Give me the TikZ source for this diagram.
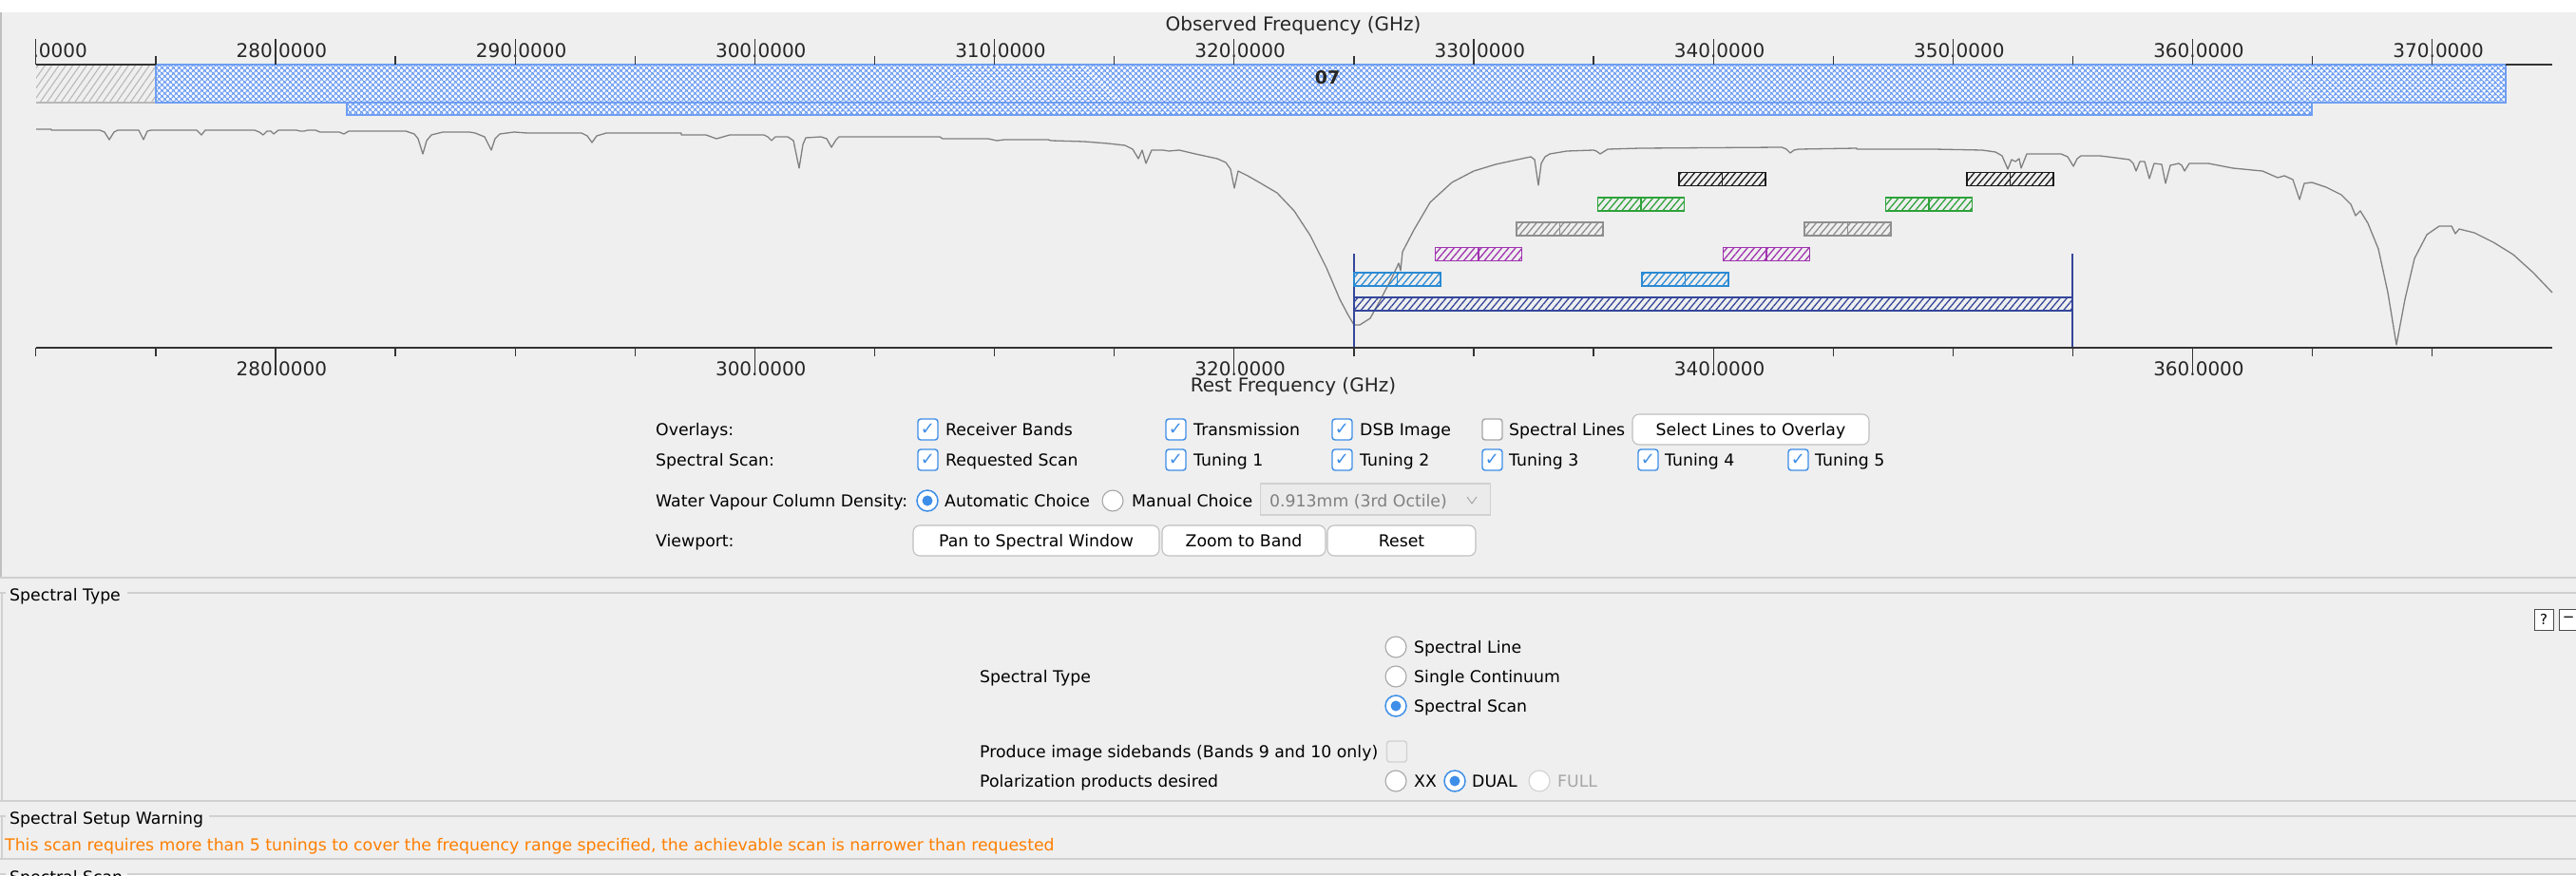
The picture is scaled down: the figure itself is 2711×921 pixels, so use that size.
\documentclass[tikz,border=0pt]{standalone}
\usepackage{fontspec}
\usetikzlibrary{patterns.meta}
\newfontfamily\dv{DejaVu Sans}
\definecolor{bg}{HTML}{EFEFEF}
\definecolor{uiblue}{HTML}{3D8EE8}
\definecolor{bandblue}{HTML}{6F9EF2}
\definecolor{tone}{HTML}{2A8AD4}
\definecolor{ttwo}{HTML}{A033B0}
\definecolor{tthree}{HTML}{8E8E8E}
\definecolor{tfour}{HTML}{2EA23A}
\definecolor{tfive}{HTML}{1A1A1A}
\definecolor{scan}{HTML}{34479A}
\definecolor{warn}{HTML}{FF7F00}
\definecolor{sep}{HTML}{D0D0D0}
\begin{document}
\begin{tikzpicture}[x=1pt,y=-1pt,
  ui/.style={font=\dv\fontsize{17.3}{20}\selectfont, inner sep=0pt, anchor=west, text height=13pt, text depth=1pt},
  ax/.style={font=\dv\fontsize{20}{24}\selectfont, inner sep=0pt, anchor=base, text=black!85},
  axtick/.style={line width=1.3pt, black!80},
  cbon/.style={draw=uiblue, line width=1.4pt, fill=white, rounded corners=3pt, minimum width=21pt, minimum height=22pt, inner sep=0pt, text=uiblue, font=\dv\fontsize{18}{18}\selectfont},
  cboff/.style={cbon, draw=black!35},
  radon/.style={circle, draw=uiblue, line width=1.5pt, fill=white, minimum size=22pt, inner sep=0pt, path picture={\fill[uiblue] (path picture bounding box.center) circle (5.5pt);}},
  radoff/.style={circle, draw=black!35, line width=1.1pt, fill=white, minimum size=22pt, inner sep=0pt},
  btn/.style={ui, anchor=center, draw=black!25, line width=1.1pt, fill=white, rounded corners=7pt, minimum height=32pt},
  tbox/.style={line width=1.4pt, draw=#1, pattern={Lines[angle=50,distance=5.5pt,line width=1.3pt]}, pattern color=#1},
  panel/.style={sep, line width=1.6pt}
]
\useasboundingbox (0,0) rectangle (2711,921);
\clip (0,0) rectangle (2711,921);
\fill[bg] (0,0) rectangle (2711,921);
\fill[white] (0,0) rectangle (2711,13);
\draw[black!25, line width=1.5pt] (1,13) -- (1,608);

% ---------- observed frequency axis ----------
\node[font=\dv\fontsize{20}{24}\selectfont, inner sep=0pt, text=black!85] (obs) at (1361,27) {Observed Frequency (GHz)};
\begin{scope}
  \clip (38,30) rectangle (2700,70);
  \foreach \f in {270,280,...,370} {
    \pgfmathsetmacro\xx{290+(\f-280)*25.22}
    \node[ax] (top\f) at (\xx,60) {\llap{\f}.\rlap{0000}};
  }
\end{scope}
% bands
\fill[pattern={Lines[angle=55,distance=6pt,line width=1.1pt]}, pattern color=black!28] (38,68) rectangle (164,108);
\draw[black!28, line width=1.4pt] (38,108) -- (164,108);
\path[preaction={fill=white}, pattern={Hatch[angle=45,distance=4pt,line width=1.6pt]}, pattern color=bandblue] (164,68) rectangle (2637,108);
\draw[bandblue, line width=1.6pt] (164,68) rectangle (2637,108);
\path[preaction={fill=white}, pattern={Hatch[angle=45,distance=4pt,line width=1.6pt]}, pattern color=bandblue] (365,108) rectangle (2433,121);
\draw[bandblue, line width=1.6pt] (365,108) rectangle (2433,121);
\node[font=\dv\bfseries\fontsize{19}{20}\selectfont, inner sep=0pt, text=black!85] (bandlabel) at (1397,82) {07};
\draw[axtick] (38,68) -- (164,68);
\draw[axtick] (2637,68) -- (2686,68);
\foreach \f in {270,280,...,370} {
  \pgfmathsetmacro\xx{290+(\f-280)*25.22}
  \draw[axtick] (\xx,41) -- (\xx,68);
}
\foreach \f in {275,285,...,365} {
  \pgfmathsetmacro\xx{290+(\f-280)*25.22}
  \draw[axtick] (\xx,59) -- (\xx,68);
}

% ---------- transmission curve ----------
\draw[black!50, line width=1.3pt, line join=round] plot coordinates {
(38,136) (54,136) (54,137) (105,137) (110,139) (115,147) (120,139) (124,137) (146,137) (151,147) (155,138) (159,137) (207,137) (212,142) (216,137) (268,137) (273,139) (277,142) (281,138) (285,138) (288,141) (293,137) (312,137) (316,138) (320,138) (324,137) (332,137) (337,139) (357,139) (362,141) (367,138) (427,138) (436,141) (440,146) (445,162) (449,148) (454,142) (466,139) (494,139) (500,140) (510,144) (517,158) (521,146) (526,141) (541,139) (555,140) (612,140) (618,143) (623,150) (628,143) (638,140) (717,140) (717,142) (743,142) (754,146) (768,142) (804,142) (808,144) (812,148) (816,144) (829,144) (835,148) (841,177) (845,152) (848,145) (864,144) (870,146) (875,155) (880,147) (883,144) (989,144) (992,146) (1040,146) (1049,148) (1057,147) (1103,147) (1106,148) (1141,149) (1166,151) (1184,153) (1192,157) (1198,167) (1202,158) (1206,172) (1212,158) (1224,158) (1230,159) (1241,158) (1258,162) (1281,167) (1290,171) (1295,178) (1299,198) (1303,180) (1313,185) (1327,193) (1344,203) (1362,222) (1379,248) (1396,282) (1410,315) (1419,332) (1425,342) (1431,342) (1442,335) (1453,315) (1465,292) (1472,277) (1474,285) (1476,265) (1488,242) (1505,213) (1528,192) (1551,180) (1574,173) (1597,168) (1611,165) (1615,168) (1619,195) (1622,172) (1626,165) (1631,162) (1649,159) (1677,158) (1680,159) (1684,162) (1692,157) (1726,156) (1875,155) (1880,157) (1884,161) (1888,158) (1893,157) (1954,156) (1954,157) (2035,157) (2086,158) (2100,160) (2107,164) (2113,178) (2117,168) (2121,170) (2125,167) (2127,177) (2133,162) (2169,162) (2176,165) (2182,175) (2186,167) (2190,164) (2210,164) (2226,166) (2241,168) (2245,172) (2248,180) (2252,170) (2257,170) (2262,188) (2267,172) (2275,173) (2279,193) (2284,174) (2293,172) (2296,174) (2299,180) (2304,172) (2324,172) (2350,177) (2381,180) (2397,187) (2404,185) (2413,189) (2420,210) (2425,193) (2433,192) (2448,197) (2464,205) (2474,215) (2479,227) (2484,222) (2492,235) (2503,262) (2513,308) (2522,363) (2531,315) (2541,272) (2554,247) (2567,238) (2580,238) (2584,246) (2588,241) (2604,245) (2624,255) (2645,268) (2666,287) (2686,308)};

% ---------- spectral scan ----------
\draw[scan, line width=1.3pt] (1425,267) -- (1425,366);
\draw[scan, line width=1.3pt] (2181,267) -- (2181,366);
\draw[tbox=scan] (1425,313) rectangle (2181,327);
\foreach \k/\c/\yt in {0/tone/287, 1/ttwo/260.5, 2/tthree/234, 3/tfour/208, 4/tfive/181.5} {
  \foreach \off in {0,303} {
    \pgfmathsetmacro\xl{1425+85.5*\k+\off}
    \draw[tbox=\c] (\xl,\yt) rectangle ++(91,14);
    \draw[\c, line width=1.8pt] (\xl+45.5,\yt) -- ++(0,14);
  }
}

% ---------- rest frequency axis ----------
\draw[axtick] (38,366) -- (2686,366);
\foreach \f in {270,275,...,370} {
  \pgfmathsetmacro\xx{290+(\f-280)*25.22}
  \draw[axtick] (\xx,366) -- (\xx,375);
}
\foreach \f in {280,300,...,360} {
  \pgfmathsetmacro\xx{290+(\f-280)*25.22}
  \node[ax] (bot\f) at (\xx,395) {\llap{\f}.\rlap{0000}};
  \draw[axtick] (\xx,366) -- (\xx,393);
}
\node[font=\dv\fontsize{20}{24}\selectfont, inner sep=0pt, text=black!85] (rest) at (1361,407) {Rest Frequency (GHz)};

% ---------- overlay controls ----------
\node[ui] (ovl) at (690,452) {Overlays:};
\node[cbon] (cbRB) at (976.5,452) {✓};  \node[ui] (tRB) at (995,452) {Receiver Bands};
\node[cbon] (cbTr) at (1237.5,452) {✓}; \node[ui] (tTr) at (1256,452) {Transmission};
\node[cbon] (cbDSB) at (1412.5,452) {✓}; \node[ui] (tDSB) at (1431,452) {DSB Image};
\node[cboff] (cbSL) at (1570.5,452) {}; \node[ui] (tSL) at (1588,452) {Spectral Lines};
\node[btn, minimum width=249pt] (bSel) at (1842.5,452) {Select Lines to Overlay};

\node[ui] (ssl) at (690,484) {Spectral Scan:};
\node[cbon] (cbRS) at (976.5,484) {✓};  \node[ui] (tRS) at (995,484) {Requested Scan};
\node[cbon] (cbT1) at (1237.5,484) {✓}; \node[ui] (tT1) at (1256,484) {Tuning 1};
\node[cbon] (cbT2) at (1412.5,484) {✓}; \node[ui] (tT2) at (1431,484) {Tuning 2};
\node[cbon] (cbT3) at (1570.5,484) {✓}; \node[ui] (tT3) at (1588,484) {Tuning 3};
\node[cbon] (cbT4) at (1734.5,484) {✓}; \node[ui] (tT4) at (1752,484) {Tuning 4};
\node[cbon] (cbT5) at (1892.5,484) {✓}; \node[ui] (tT5) at (1910,484) {Tuning 5};

\node[ui] (wv) at (690,527) {Water Vapour Column Density:};
\node[radon] (rAuto) at (976,527) {};  \node[ui] (tAuto) at (994,527) {Automatic Choice};
\node[radoff] (rMan) at (1171,527) {}; \node[ui] (tMan) at (1191,527) {Manual Choice};
\node[draw=black!18, fill=black!8, line width=1.1pt, minimum width=242pt, minimum height=33pt, inner sep=0pt, anchor=west] (dd) at (1326,525.5) {};
\node[ui, text=black!50] (ddt) at (1336,527) {0.913mm (3rd Octile)};
\draw[black!35, line width=1pt] (1544,523) -- (1549,530) -- (1554,523);

\node[ui] (vp) at (690,569) {Viewport:};
\node[btn, minimum width=259pt] (bPan) at (1090.5,569) {Pan to Spectral Window};
\node[btn, minimum width=172pt] (bZoom) at (1309,569) {Zoom to Band};
\node[btn, minimum width=156pt] (bReset) at (1475,569) {Reset};

\draw[panel, line width=2pt] (0,608) -- (2711,608);

% ---------- spectral type panel ----------
\draw[panel] (0,624) -- (6,624);
\draw[panel] (134,624) -- (2711,624);
\draw[panel] (2,624) -- (2,843);
\draw[panel] (0,843) -- (2711,843);
\node[ui] (stT) at (10,626) {Spectral Type};
\node[draw=black!70, fill=white, line width=1pt, minimum width=20pt, minimum height=22pt, inner sep=0pt, font=\dv\fontsize{15}{16}\selectfont] (help) at (2677,652) {?};
\node[draw=black!70, fill=white, line width=1pt, minimum width=20pt, minimum height=22pt, inner sep=0pt, font=\dv\fontsize{15}{16}\selectfont] (minus) at (2703,652) {−};

\node[ui] (stL) at (1031,712) {Spectral Type};
\node[radoff] (rLine) at (1469,681) {}; \node[ui] (tLine) at (1488,681) {Spectral Line};
\node[radoff] (rCont) at (1469,712) {}; \node[ui] (tCont) at (1488,712) {Single Continuum};
\node[radon] (rScan) at (1469,743) {};  \node[ui] (tScan) at (1488,743) {Spectral Scan};
\node[ui] (side) at (1031,791) {Produce image sidebands (Bands 9 and 10 only)};
\node[cboff, draw=black!18, fill=bg] (cbSide) at (1470,791) {};
\node[ui] (pol) at (1031,822) {Polarization products desired};
\node[radoff] (rXX) at (1469,822) {};  \node[ui] (tXX) at (1488,822) {XX};
\node[radon] (rDual) at (1531,822) {}; \node[ui] (tDual) at (1549,822) {DUAL};
\node[radoff, draw=black!18] (rFull) at (1620,822) {}; \node[ui, text=black!35] (tFull) at (1639,822) {FULL};

% ---------- warning panel ----------
\draw[panel] (0,859) -- (6,859);
\draw[panel] (220,859) -- (2711,859);
\draw[panel] (2,859) -- (2,904);
\draw[panel] (0,904) -- (2711,904);
\node[ui] (wT) at (10,861) {Spectral Setup Warning};
\node[ui, text=warn] (wMsg) at (5,889) {This scan requires more than 5 tunings to cover the frequency range specified, the achievable scan is narrower than requested};

\draw[panel] (0,920) -- (6,920);
\draw[panel] (134,920) -- (2711,920);
\node[ui] (scT) at (10,923) {Spectral Scan};
\end{tikzpicture}
\end{document}
